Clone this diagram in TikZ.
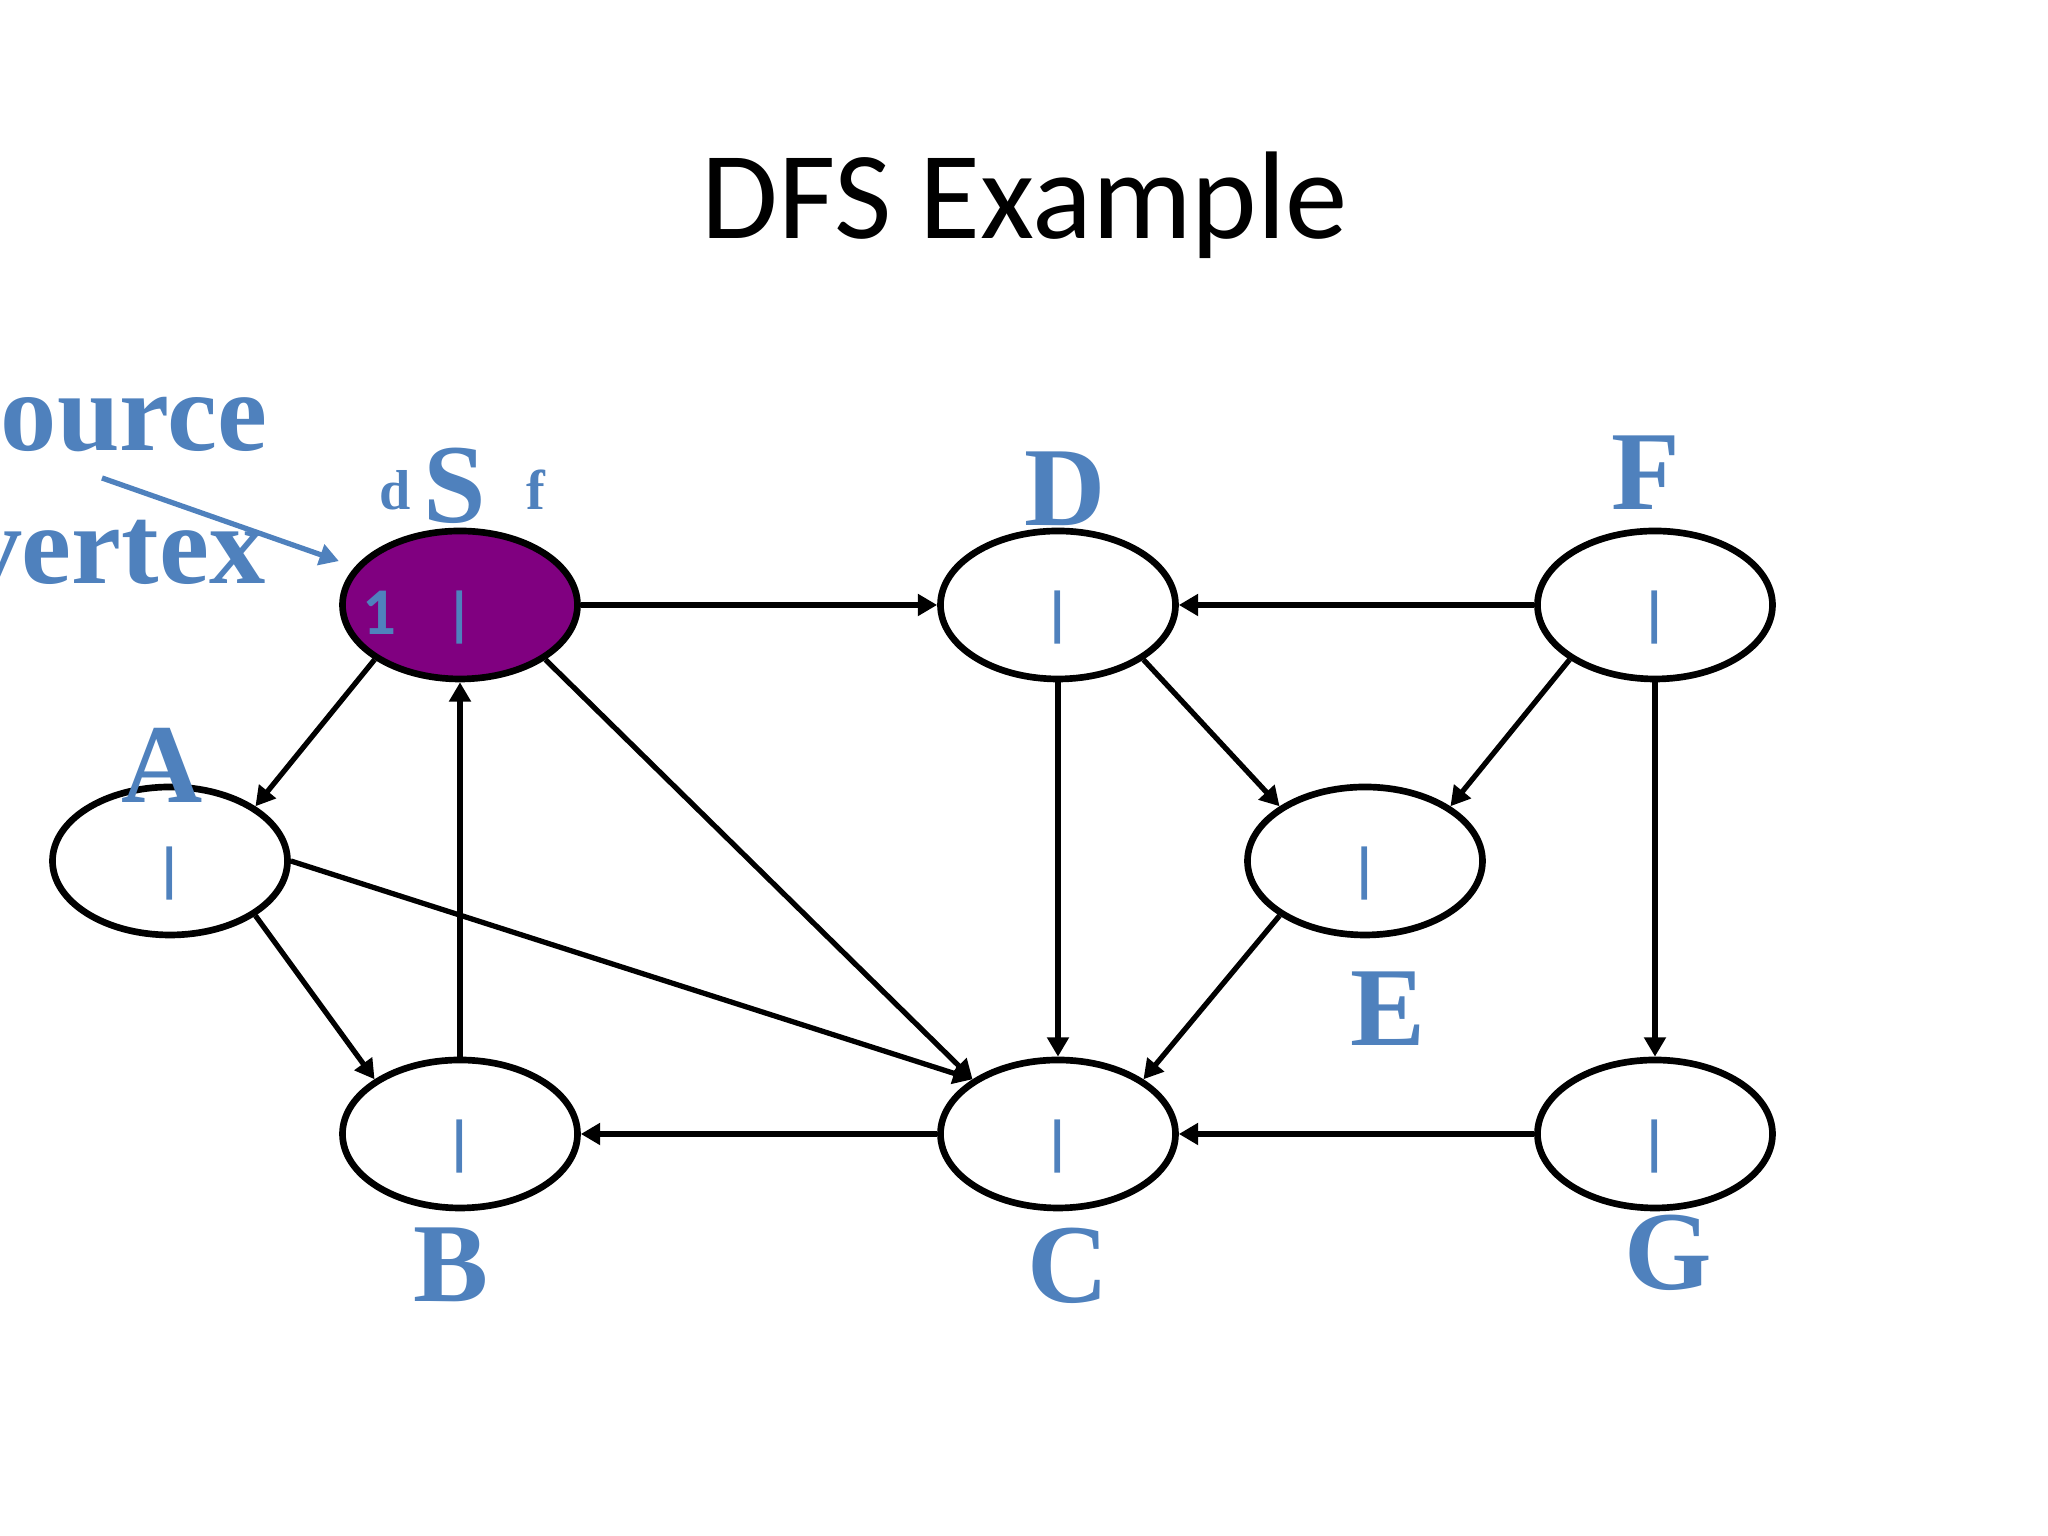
\documentclass[tikz,border=0pt]{standalone}
\usepackage{fontspec}
\setmainfont{Liberation Serif}
\newfontfamily\calibri{Carlito}
\usetikzlibrary{arrows.meta,positioning,shapes.geometric}
\definecolor{vblue}{HTML}{4F81BD}
\definecolor{vpurple}{HTML}{800080}

\begin{document}
\begin{tikzpicture}[
      >={Triangle[length=5.5pt,width=6pt]},
      line width=1.5pt,
      node distance=0.2cm]
    \tikzstyle{vtext}=[inner sep=0pt,text=vblue,
      font=\calibri\bfseries\fontsize{17}{17}\selectfont,text height=0.6cm,text depth=0cm]
    \tikzstyle{vertex}=[ellipse,draw,line width=1.9pt,minimum width=2.35cm,
      minimum height=1.48cm,vtext]
    \tikzstyle{vname}=[inner sep=0pt,text=vblue,text depth=0pt,
      font=\fontsize{32}{38}\selectfont\bfseries]
    \tikzstyle{dfname}=[inner sep=0pt,text=vblue,
      font=\fontsize{16}{18}\selectfont\bfseries]
    \useasboundingbox (0,0) rectangle (20.48,15.36);
    \clip (0,0) rectangle (20.48,15.36);

    \node [font=\calibri\fontsize{35.5}{40}\selectfont,anchor=base]
      (title) at (10.25,12.97) {DFS Example};

    % vertices
    \node [vertex,fill=vpurple] (S) at (4.60,9.31) {|};
    \node [vertex] (D) at (10.58,9.31) {|};
    \node [vertex] (F) at (16.55,9.31) {|};
    \node [vertex] (A) at (1.70,6.75) {|};
    \node [vertex] (E) at (13.65,6.75) {|};
    \node [vertex] (B) at (4.60,4.02) {|};
    \node [vertex] (C) at (10.58,4.02) {|};
    \node [vertex] (G) at (16.55,4.02) {|};
    \node [vtext,font=\calibri\bfseries\fontsize{19}{19}\selectfont]
      (Sd) at ([xshift=-0.81cm]S.center) {1};

    % names
    \node [vname,above=0.03cm of S,xshift=-0.05cm] (Slab) {S};
    \node [vname,above=0cm of D,xshift=0.07cm] (Dlab) {D};
    \node [vname,above=0.16cm of F,xshift=-0.09cm] (Flab) {F};
    \node [vname,above=-0.21cm of A,xshift=-0.08cm] (Alab) {A};
    \node [vname,below=0.31cm of E,xshift=0.23cm] (Elab) {E};
    \node [vname,below=0.14cm of B,xshift=-0.09cm] (Blab) {B};
    \node [vname,below=0.14cm of C,xshift=0.10cm] (Clab) {C};
    \node [vname,below=0.015cm of G,xshift=0.13cm] (Glab) {G};
    \node [dfname,base left=0.08cm of Slab,yshift=0.13cm] (dlab) {d};
    \node [dfname,base right=0.35cm of Slab,yshift=0.13cm] (flab) {f};

    % source vertex
    \node [vname,anchor=base east] (srcA) at (2.70,10.85) {Source};
    \node [vname,anchor=base east] (srcB) at (2.68,9.52) {vertex};
    \coordinate (srctail) at (1.02,10.58);
    \draw [->,vblue,shorten >=0.17cm] (srctail) -- (S.160);

    \path [->]
    (S.east) edge (D.west)
    (S.south west) edge (A.north east)
    (S.south east) edge (C.north west)
    (B.north) edge (S.south)
    (A.south east) edge (B.north west)
    (A.east) edge (C.north west)
    (C.west) edge (B.east)
    (D.south) edge (C.north)
    (D.south east) edge (E.north west)
    (F.west) edge (D.east)
    (F.south west) edge (E.north east)
    (F.south) edge (G.north)
    (E.south west) edge (C.north east)
    (G.west) edge (C.east)
    ;
  \end{tikzpicture}
\end{document}
